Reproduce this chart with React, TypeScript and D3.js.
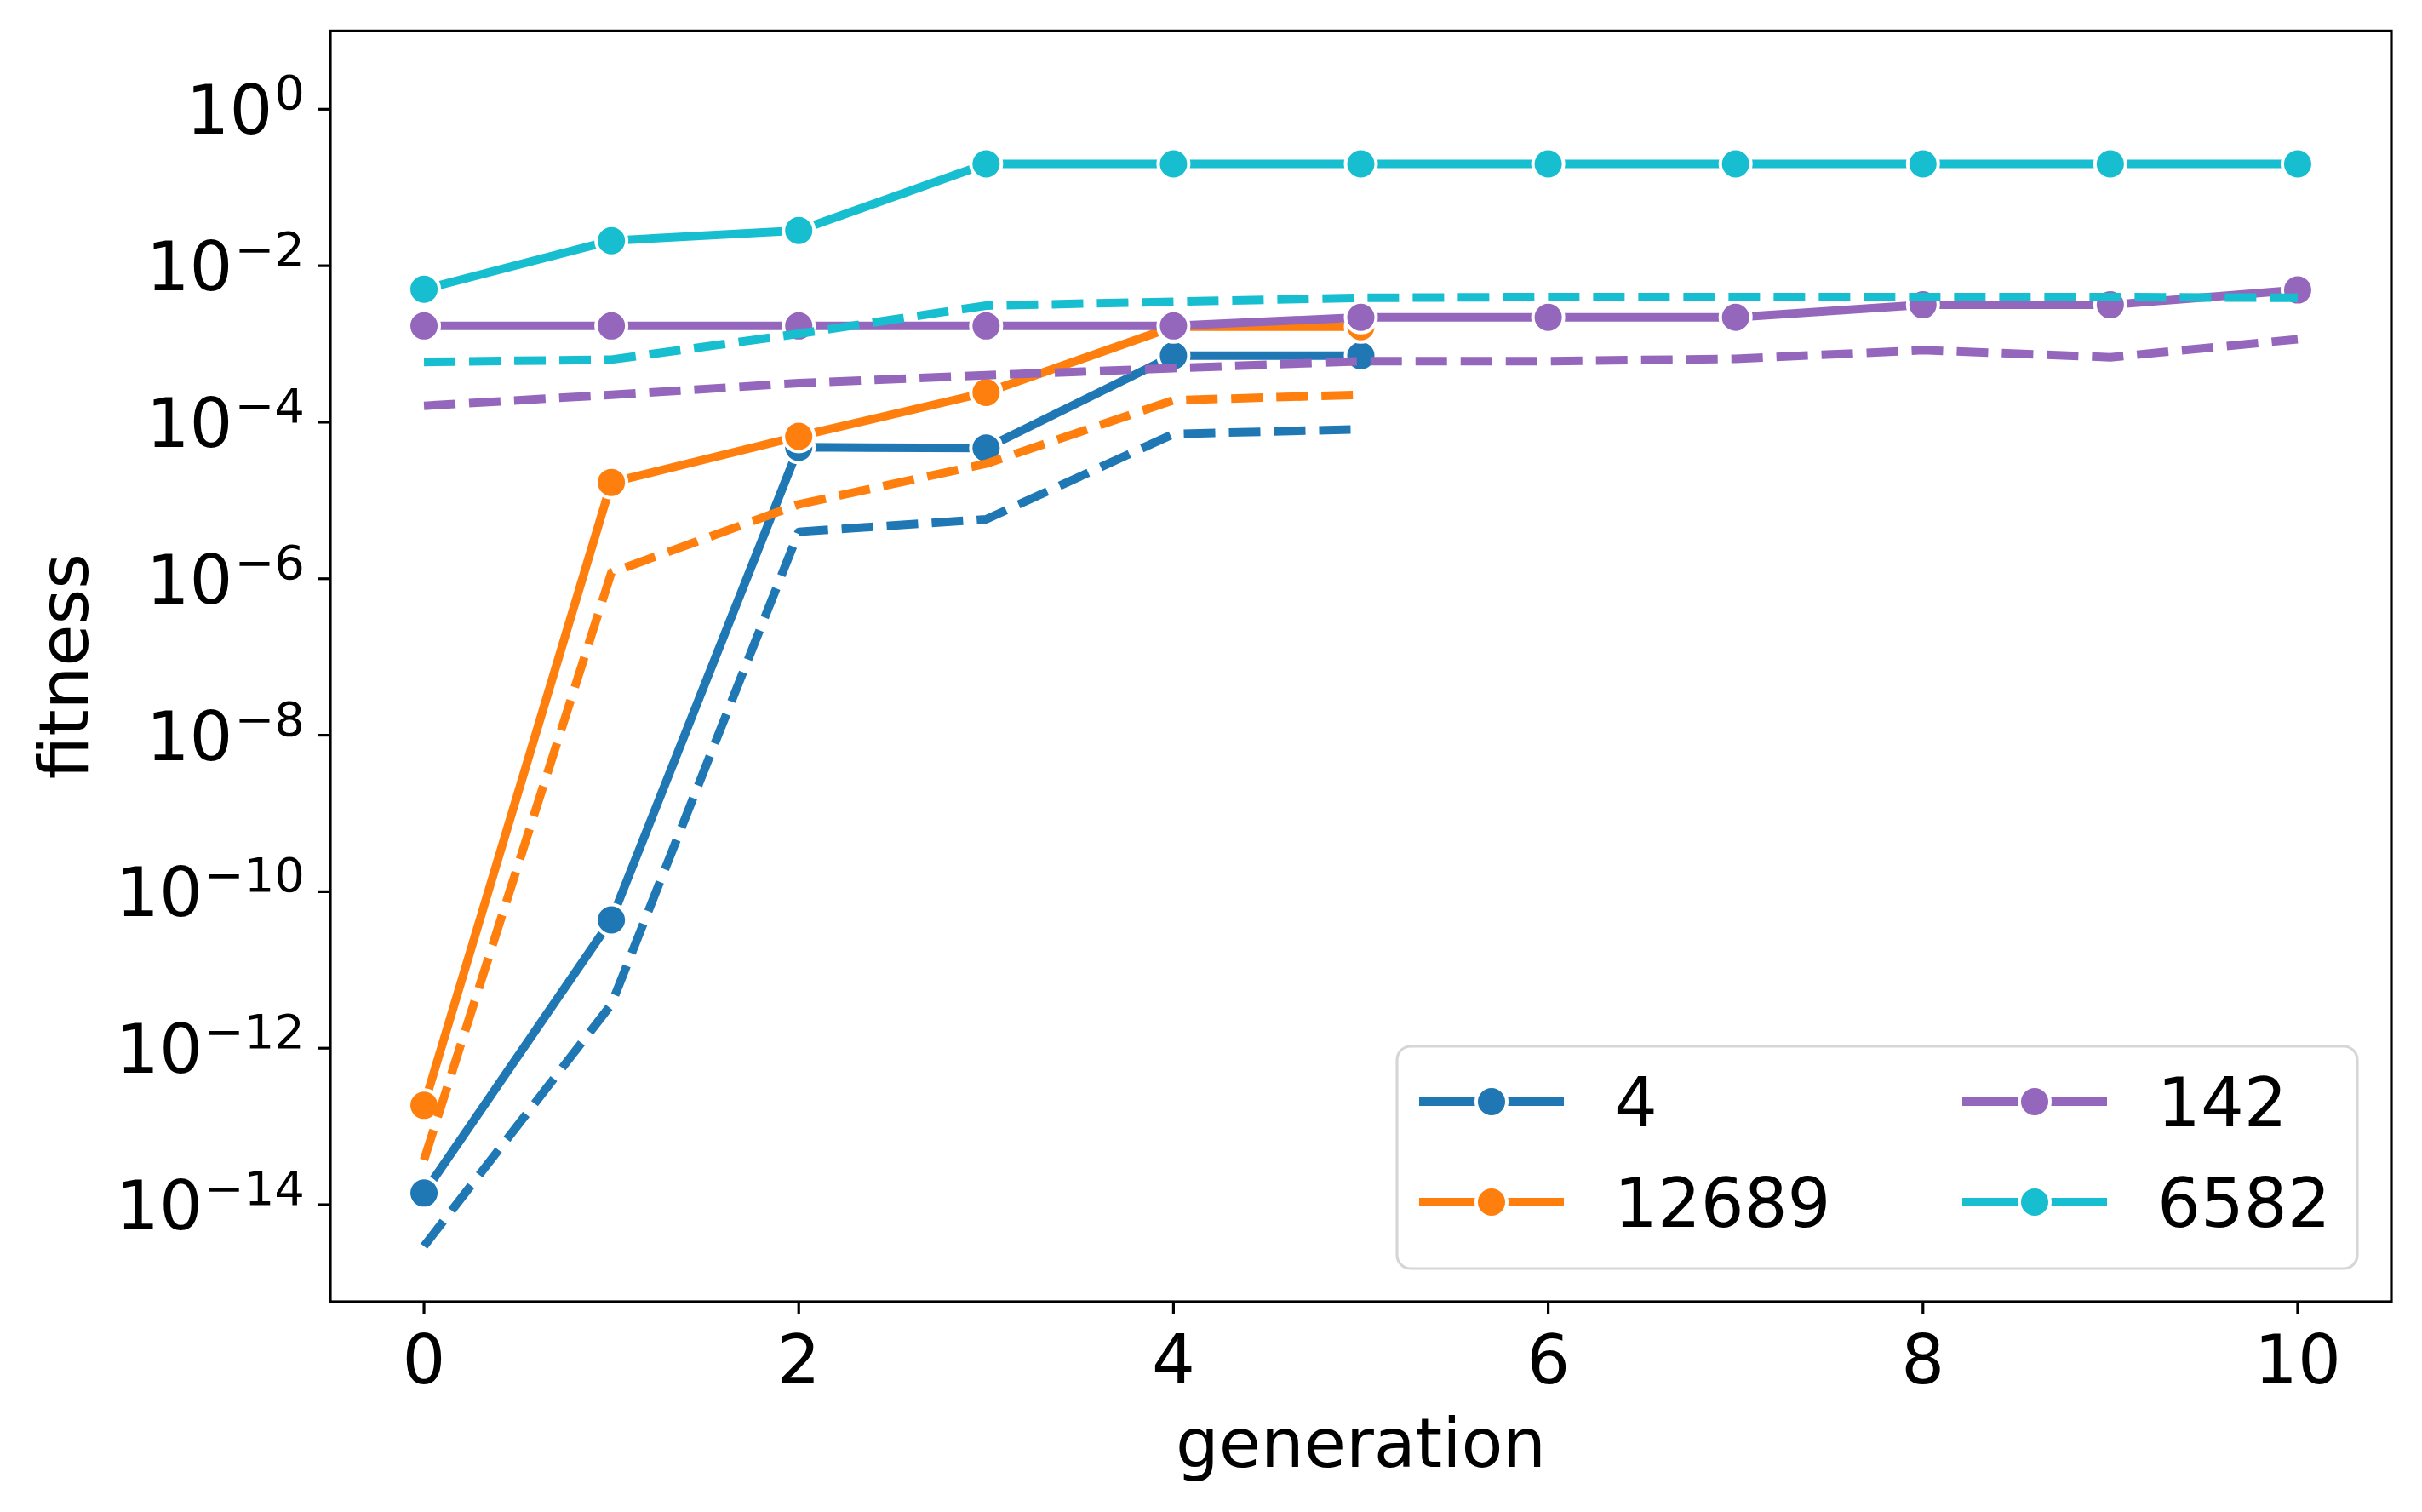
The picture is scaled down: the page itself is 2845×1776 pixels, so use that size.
import React from "react";
import * as d3 from "d3";

// Generations on the x axis
const generations = [0, 1, 2, 3, 4, 5, 6, 7, 8, 9, 10];

// Run labels in legend order
const runLabels = ["4", "12689", "142", "6582"];
const runColors = ["#1f77b4", "#ff7f0e", "#9467bd", "#17becf"];

// Best fitness per generation (solid lines with markers)
const best4 = [1.41e-14, 4.37e-11, 4.79e-5, 4.68e-5, 7.08e-4, 7.08e-4];
const best12689 = [1.86e-13, 1.7e-5, 6.61e-5, 2.4e-4, 1.66e-3, 1.66e-3];
const best142 = [1.7e-3, 1.7e-3, 1.7e-3, 1.7e-3, 1.7e-3, 2.19e-3, 2.19e-3, 2.19e-3, 3.16e-3, 3.16e-3, 4.9e-3];
const best6582 = [5.01e-3, 2.09e-2, 2.82e-2, 0.2, 0.2, 0.2, 0.2, 0.2, 0.2, 0.2, 0.2];

// Mean fitness per generation (dashed lines)
const mean4 = [2.95e-15, 3.63e-12, 3.98e-6, 5.75e-6, 7.08e-5, 8.13e-5];
const mean12689 = [3.72e-14, 1.2e-6, 8.91e-6, 2.95e-5, 1.91e-4, 2.24e-4];
const mean142 = [1.62e-4, 2.24e-4, 3.16e-4, 3.98e-4, 4.9e-4, 6.03e-4, 6.03e-4, 6.46e-4, 8.32e-4, 6.76e-4, 1.15e-3];
const mean6582 = [5.89e-4, 6.31e-4, 1.35e-3, 3.09e-3, 3.47e-3, 3.89e-3, 3.98e-3, 3.98e-3, 3.98e-3, 3.98e-3, 3.89e-3];

// Axis ticks
const xTicks = [0, 2, 4, 6, 8, 10];
const yTickExponents = [0, -2, -4, -6, -8, -10, -12, -14];

const bestSeries = [best4, best12689, best142, best6582];
const meanSeries = [mean4, mean12689, mean142, mean6582];

const W = 2845;
const H = 1776;
const left = 388;
const right = 2809;
const top = 36.4;
const bottom = 1529;
const FONT = "DejaVu Sans, sans-serif";
const FS = 80;
const LW = 10;
const MR = 18;

export default function App() {
  const x = d3.scaleLinear().domain([-0.5, 10.5]).range([left, right]);
  const y = d3.scaleLog().domain([Math.pow(10, -15.24), 10]).range([bottom, top]);

  const line = d3
    .line<number>()
    .x((_, i) => x(generations[i]))
    .y((v) => y(v));

  const legendRows = [1294, 1412];
  const legendCols = [1667, 2305];
  const handleLen = 170;
  const textOffset = 229;

  return (
    <svg
      width={W}
      height={H}
      viewBox={`0 0 ${W} ${H}`}
      style={{ position: "absolute", left: 0, top: 0, background: "#fff" }}
      fontFamily={FONT}
    >
      <rect x={0} y={0} width={W} height={H} fill="#fff" />

      {/* series: best (solid + markers) then mean (dashed) for each run */}
      {runLabels.map((label, k) => (
        <g key={label}>
          <path
            d={line(bestSeries[k]) || ""}
            fill="none"
            stroke={runColors[k]}
            strokeWidth={LW}
            strokeLinejoin="round"
            strokeLinecap="square"
          />
          {bestSeries[k].map((v, i) => (
            <circle
              key={i}
              cx={x(generations[i])}
              cy={y(v)}
              r={MR}
              fill={runColors[k]}
              stroke="#fff"
              strokeWidth={4}
            />
          ))}
          <path
            d={line(meanSeries[k]) || ""}
            fill="none"
            stroke={runColors[k]}
            strokeWidth={LW}
            strokeDasharray="37 16"
            strokeLinejoin="round"
            strokeLinecap="butt"
          />
        </g>
      ))}

      {/* axes frame */}
      <rect
        x={left}
        y={top}
        width={right - left}
        height={bottom - top}
        fill="none"
        stroke="#000"
        strokeWidth={3.2}
      />

      {/* x ticks */}
      {xTicks.map((t) => (
        <g key={t}>
          <line x1={x(t)} x2={x(t)} y1={bottom} y2={bottom + 14} stroke="#000" strokeWidth={3.2} />
          <text x={x(t)} y={1625} textAnchor="middle" fontSize={FS} fill="#000">
            {t}
          </text>
        </g>
      ))}

      {/* y ticks */}
      {yTickExponents.map((e) => {
        const ty = y(Math.pow(10, e));
        const sup = e < 0 ? `\u2212${-e}` : `${e}`;
        return (
          <g key={e}>
            <line x1={left - 14} x2={left} y1={ty} y2={ty} stroke="#000" strokeWidth={3.2} />
            <text x={358} y={ty + 29} textAnchor="end" fontSize={FS} fill="#000">
              <tspan>10</tspan>
              <tspan dx={2} dy={-29} fontSize={56}>
                {sup}
              </tspan>
            </text>
          </g>
        );
      })}

      {/* axis labels */}
      <text x={(left + right) / 2} y={1723} textAnchor="middle" fontSize={FS} fill="#000">
        generation
      </text>
      <text
        transform={`translate(103, ${(top + bottom) / 2}) rotate(-90)`}
        textAnchor="middle"
        fontSize={FS}
        fill="#000"
      >
        fitness
      </text>

      {/* legend */}
      <rect
        x={1641}
        y={1229}
        width={1128}
        height={261}
        rx={16}
        ry={16}
        fill="#fff"
        fillOpacity={0.8}
        stroke="#d6d6d6"
        strokeWidth={3.2}
      />
      {runLabels.map((label, k) => {
        const col = Math.floor(k / 2);
        const row = k % 2;
        const lx = legendCols[col];
        const ly = legendRows[row];
        return (
          <g key={label}>
            <line x1={lx} x2={lx + handleLen} y1={ly} y2={ly} stroke={runColors[k]} strokeWidth={LW} />
            <circle cx={lx + handleLen / 2} cy={ly} r={MR} fill={runColors[k]} stroke="#fff" strokeWidth={4} />
            <text x={lx + textOffset} y={ly + 29} fontSize={FS} fill="#000">
              {label}
            </text>
          </g>
        );
      })}
    </svg>
  );
}
